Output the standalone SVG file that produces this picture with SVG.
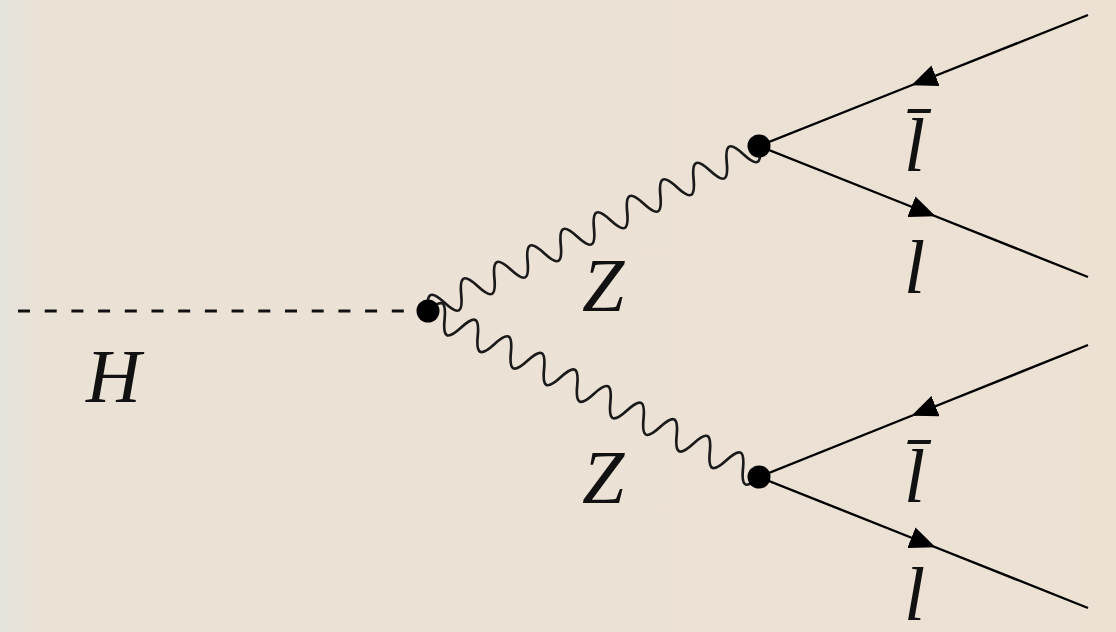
<svg xmlns="http://www.w3.org/2000/svg" width="1116" height="632" viewBox="0 0 1116 632">
  <defs>
    <linearGradient id="bg" x1="0" y1="0" x2="1" y2="0">
      <stop offset="0" stop-color="#e4e3dc"/>
      <stop offset="0.035" stop-color="#ebe2d6"/>
      <stop offset="1" stop-color="#ece1d3"/>
    </linearGradient>
    <marker id="arr" viewBox="0 0 26 22" refX="13" refY="11" markerWidth="26" markerHeight="22" markerUnits="userSpaceOnUse" orient="auto">
      <path d="M0,0 L26,11 L0,22 z" fill="#000"/>
    </marker>
    <path id="wave" d="M0,0 C6.67,-17.5 11.86,-17.5 18.54,0 S30.40,17.5 37.07,0 S48.93,-17.5 55.61,0 S67.47,17.5 74.14,0 S86.00,-17.5 92.68,0 S104.54,17.5 111.21,0 S123.07,-17.5 129.75,0 S141.61,17.5 148.28,0 S160.14,-17.5 166.82,0 S178.68,17.5 185.35,0 S197.21,-17.5 203.89,0 S215.75,17.5 222.42,0 S234.28,-17.5 240.96,0 S252.82,17.5 259.49,0 S271.35,-17.5 278.03,0 S289.89,17.5 296.56,0 S308.42,-17.5 315.10,0 S326.96,17.5 333.63,0 S345.49,-17.5 352.17,0 S364.03,17.5 370.70,0"/>
  </defs>
  <style>
    .fer { stroke: #000; stroke-width: 2.4; fill: none; marker-mid: url(#arr); }
    .pho { stroke: #1a1a1a; stroke-width: 2.7; fill: none; }
    .sca { stroke: #111; stroke-width: 3.2; stroke-dasharray: 12 14.7; fill: none; }
    .vtx { fill: #000; }
  </style>
  <rect x="0" y="0" width="1116" height="632" fill="url(#bg)"/>

  <g id="connectors">
    <line class="sca" x1="18" y1="311" x2="428" y2="311"/>
    <use href="#wave" class="pho" transform="translate(428,311) rotate(-26.43)"/>
    <use href="#wave" class="pho" transform="translate(428,311) rotate(26.57)"/>
    <path class="fer" d="M1088,15 L923.5,80.5 L759,146"/>
    <path class="fer" d="M759,146 L923.5,211.5 L1088,277"/>
    <path class="fer" d="M1088,345 L923.5,411 L759,477"/>
    <path class="fer" d="M759,477 L923.5,542.5 L1088,608"/>
  </g>

  <g id="vertex-H"><circle class="vtx" cx="428" cy="311" r="11.5"/></g>
  <g id="vertex-Z1"><circle class="vtx" cx="759" cy="146" r="11.5"/></g>
  <g id="vertex-Z2"><circle class="vtx" cx="759" cy="477" r="11.5"/></g>

  <g id="label-H"><text font-family="Liberation Serif" font-style="italic" font-size="76" fill="#111" x="86" y="402">H</text></g>
  <g id="label-Z1"><text font-family="Liberation Serif" font-style="italic" font-size="76" fill="#111" x="582" y="311">Z</text></g>
  <g id="label-Z2"><text font-family="Liberation Serif" font-style="italic" font-size="76" fill="#111" x="582" y="503">Z</text></g>
  <g id="label-lbar1"><text font-family="Liberation Serif" font-style="italic" font-size="76" fill="#111" x="904" y="171">l̄</text></g>
  <g id="label-l1"><text font-family="Liberation Serif" font-style="italic" font-size="76" fill="#111" x="904" y="293">l</text></g>
  <g id="label-lbar2"><text font-family="Liberation Serif" font-style="italic" font-size="76" fill="#111" x="904" y="502">l̄</text></g>
  <g id="label-l2"><text font-family="Liberation Serif" font-style="italic" font-size="76" fill="#111" x="904" y="620">l</text></g>
</svg>
